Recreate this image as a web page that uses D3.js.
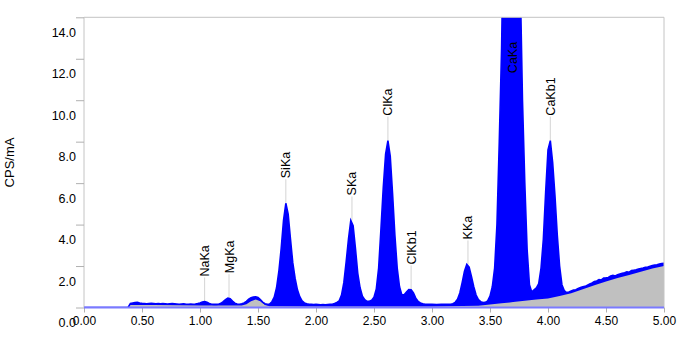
<!DOCTYPE html>
<html>
<head>
<meta charset="utf-8">
<script src="https://cdn.jsdelivr.net/npm/d3@7/dist/d3.min.js"></script>
<style>
  html, body { margin: 0; padding: 0; background: #fff; }
  svg { display: block; font-family: "Liberation Sans", Arial, sans-serif; }
</style>
</head>
<body>
<svg id="chart" width="700" height="351"></svg>
<script>
// ---- data ----
const energy = [0.00,0.38,0.40,0.42,0.44,0.46,0.48,0.50,0.52,0.54,0.56,0.58,0.60,0.62,0.64,0.66,0.68,0.70,0.72,0.74,0.76,0.78,0.80,0.82,0.84,0.86,0.88,0.90,0.92,0.94,0.96,0.98,
  1.00,1.02,1.04,1.06,1.08,1.10,1.12,1.14,1.16,1.18,1.20,1.22,1.24,1.26,1.28,1.30,1.32,1.34,1.36,1.38,1.40,1.42,1.44,1.46,1.48,1.50,1.52,1.54,1.56,1.58,
  1.60,1.62,1.64,1.66,1.68,1.70,1.72,1.74,1.76,1.78,1.80,1.82,1.84,1.86,1.88,1.90,1.92,1.94,1.96,1.98,
  2.00,2.02,2.04,2.06,2.08,2.10,2.12,2.14,2.16,2.18,2.20,2.22,2.24,2.26,2.28,2.30,2.32,2.34,2.36,2.38,2.40,2.42,2.44,2.46,2.48,
  2.50,2.52,2.54,2.56,2.58,2.60,2.62,2.64,2.66,2.68,2.70,2.72,2.74,2.76,2.78,2.80,2.82,2.84,2.86,2.88,2.90,2.92,2.94,2.96,2.98,
  3.00,3.04,3.08,3.12,3.16,3.18,3.20,3.22,3.24,3.26,3.28,3.30,3.32,3.34,3.36,3.38,3.40,3.42,3.44,3.46,3.48,
  3.50,3.52,3.54,3.56,3.58,3.60,3.62,3.64,3.66,3.68,3.70,3.72,3.74,3.76,3.78,3.80,3.82,3.84,3.86,3.88,3.90,3.92,3.94,3.96,3.98,
  4.00,4.02,4.04,4.06,4.08,4.10,4.12,4.14,4.16,4.18,4.20,4.22,4.24,4.26,4.28,4.30,4.32,4.34,4.36,4.38,4.40,4.42,4.44,4.46,4.48,
  4.50,4.52,4.54,4.56,4.58,4.60,4.62,4.64,4.66,4.68,4.70,4.72,4.74,4.76,4.78,4.80,4.82,4.84,4.86,4.88,4.90,4.92,4.94,4.96,4.98,5.00];
const counts = [0,0,0.20,0.22,0.24,0.25,0.22,0.20,0.19,0.18,0.19,0.20,0.19,0.18,0.19,0.18,0.19,0.18,0.17,0.18,0.19,0.18,0.17,0.16,0.17,0.18,0.16,0.16,0.17,0.16,0.17,0.19,
  0.22,0.27,0.29,0.25,0.19,0.16,0.15,0.15,0.16,0.20,0.28,0.38,0.45,0.42,0.31,0.21,0.17,0.16,0.18,0.22,0.30,0.40,0.47,0.51,0.52,0.48,0.38,0.26,0.18,0.15,
  0.17,0.28,0.50,0.95,1.75,2.85,4.20,5.03,4.50,3.30,2.15,1.40,0.85,0.52,0.32,0.22,0.18,0.16,0.15,0.14,
  0.15,0.14,0.13,0.14,0.13,0.14,0.15,0.16,0.19,0.24,0.32,0.60,1.20,2.20,3.30,4.20,3.95,2.85,1.65,0.95,0.55,0.38,0.30,0.30,0.35,
  0.50,0.90,1.90,3.80,5.80,7.40,8.05,7.30,5.50,3.50,1.90,1.00,0.60,0.62,0.75,0.87,0.86,0.70,0.45,0.30,0.22,0.18,0.16,0.15,0.15,
  0.15,0.14,0.15,0.15,0.16,0.18,0.25,0.40,0.70,1.20,1.75,2.08,1.95,1.50,1.00,0.60,0.38,0.28,0.24,0.25,0.32,
  0.55,1.00,1.90,4.00,8.00,12.5,20,30,36,38,36,30,22,16,10,6.0,2.8,1.1,0.75,0.85,0.95,1.15,1.90,3.30,5.60,
  7.60,8.05,7.00,5.40,3.50,2.00,1.10,0.82,0.72,0.75,0.80,0.84,0.86,0.92,0.96,1.00,1.02,1.08,1.14,1.18,1.25,1.28,1.35,1.33,1.42,
  1.43,1.45,1.52,1.55,1.52,1.58,1.62,1.65,1.68,1.72,1.70,1.78,1.80,1.82,1.86,1.88,1.90,1.94,1.95,1.99,2.02,2.05,2.06,2.10,2.12,2.13];

const bgEnergy = [0.00,0.38,0.40,0.60,0.80,1.00,1.20,1.36,1.40,1.44,1.48,1.52,1.56,1.60,2.00,3.00,3.40,3.50,3.60,3.70,3.80,3.90,4.00,4.10,4.20,4.30,4.40,4.50,4.60,4.70,4.80,4.90,5.00];
const bgCounts = [0,0,0.12,0.12,0.11,0.10,0.10,0.10,0.16,0.30,0.38,0.30,0.12,0.06,0.05,0.05,0.08,0.15,0.20,0.26,0.32,0.38,0.44,0.56,0.69,0.88,1.07,1.25,1.42,1.57,1.73,1.88,2.00];

const peakNames  = ["NaKa","MgKa","SiKa","SKa","ClKa","ClKb1","KKa","CaKa","CaKb1"];
const peakEnergy = [1.04,1.25,1.74,2.31,2.62,2.82,3.31,3.69,4.02];
const peakHeight = [0.29,0.45,5.03,4.20,8.05,0.87,2.08,10.1,8.05];

const xTicks = [0,0.5,1,1.5,2,2.5,3,3.5,4,4.5,5];
const yTicks = [0,2,4,6,8,10,12,14];
const yTitle = "CPS/mA";

// ---- drawing ----
const svg = d3.select("#chart");
const L = 84, R = 664, T = 17.3, B = 307.5;
const x = d3.scaleLinear().domain([0, 5]).range([L, R]);
const y = d3.scaleLinear().domain([0, 14]).range([B, T]);

svg.append("defs").append("clipPath").attr("id", "plotclip")
  .append("rect").attr("x", L).attr("y", T).attr("width", R - L).attr("height", B - T);

const spec = energy.map((e, i) => [e, counts[i]]);
const bg = bgEnergy.map((e, i) => [e, bgCounts[i]]);

// leader lines (behind the spectrum)
const leaders = svg.append("g");
peakNames.forEach((n, i) => {
  const px = x(peakEnergy[i]), py = y(peakHeight[i]);
  leaders.append("line").attr("x1", px).attr("x2", px).attr("y1", py - 24).attr("y2", py)
    .attr("stroke", "#d4d4d4").attr("stroke-width", 1);
});

const plot = svg.append("g").attr("clip-path", "url(#plotclip)");
const area = d3.area().x(d => x(d[0])).y0(y(0)).y1(d => y(d[1]));
const line = d3.line().x(d => x(d[0])).y(d => y(d[1]));

plot.append("path").datum(spec).attr("d", area).attr("fill", "#0000ff");
plot.append("path").datum(bg).attr("d", area).attr("fill", "#c0c0c0");
plot.append("path").datum(spec).attr("d", line).attr("fill", "none")
  .attr("stroke", "#0000ff").attr("stroke-width", 1.6);

// frame
svg.append("line").attr("x1", L).attr("x2", R).attr("y1", T).attr("y2", T).attr("stroke", "#c4c4c4");
svg.append("line").attr("x1", R).attr("x2", R).attr("y1", T).attr("y2", B).attr("stroke", "#c4c4c4");
svg.append("line").attr("x1", L).attr("x2", L).attr("y1", T).attr("y2", B).attr("stroke", "#c4c4c4");

// y axis
const yAxis = svg.append("g").attr("transform", `translate(${L},0)`)
  .call(d3.axisLeft(y).tickValues(yTicks).tickSize(8).tickFormat(d3.format(".1f")));
yAxis.select(".domain").remove();
yAxis.selectAll(".tick line").attr("stroke", "#b0b0b0");
yAxis.selectAll(".tick text").attr("x", -8).attr("dy", null).attr("y", 19)
  .attr("font-size", 12.5).attr("fill", "#000").attr("font-family", "Liberation Sans, Arial, sans-serif");

// x axis
const xAxis = svg.append("g").attr("transform", `translate(0,${B})`)
  .call(d3.axisBottom(x).tickValues(xTicks).tickSize(5).tickFormat(d3.format(".2f")));
xAxis.select(".domain").remove();
xAxis.selectAll(".tick line").attr("stroke", "#b0b0b0");
xAxis.selectAll(".tick text").attr("y", 17).attr("dy", null)
  .attr("font-size", 12).attr("fill", "#000").attr("font-family", "Liberation Sans, Arial, sans-serif");
svg.append("line").attr("x1", L).attr("x2", R).attr("y1", B).attr("y2", B)
  .attr("stroke", "#7a7aff").attr("stroke-width", 2);

// y title
svg.append("text").attr("transform", `translate(9,162.5) rotate(-90)`)
  .attr("text-anchor", "middle").attr("dy", "0.35em").attr("font-size", 13).text(yTitle);

// peak labels
const lab = svg.append("g");
peakNames.forEach((n, i) => {
  const px = x(peakEnergy[i]), py = y(peakHeight[i]);
  lab.append("text").attr("transform", `translate(${px},${py - 25}) rotate(-90)`)
    .attr("dy", "0.36em").attr("font-size", 12.5).attr("fill", "#000").text(n);
});
</script>
</body>
</html>
